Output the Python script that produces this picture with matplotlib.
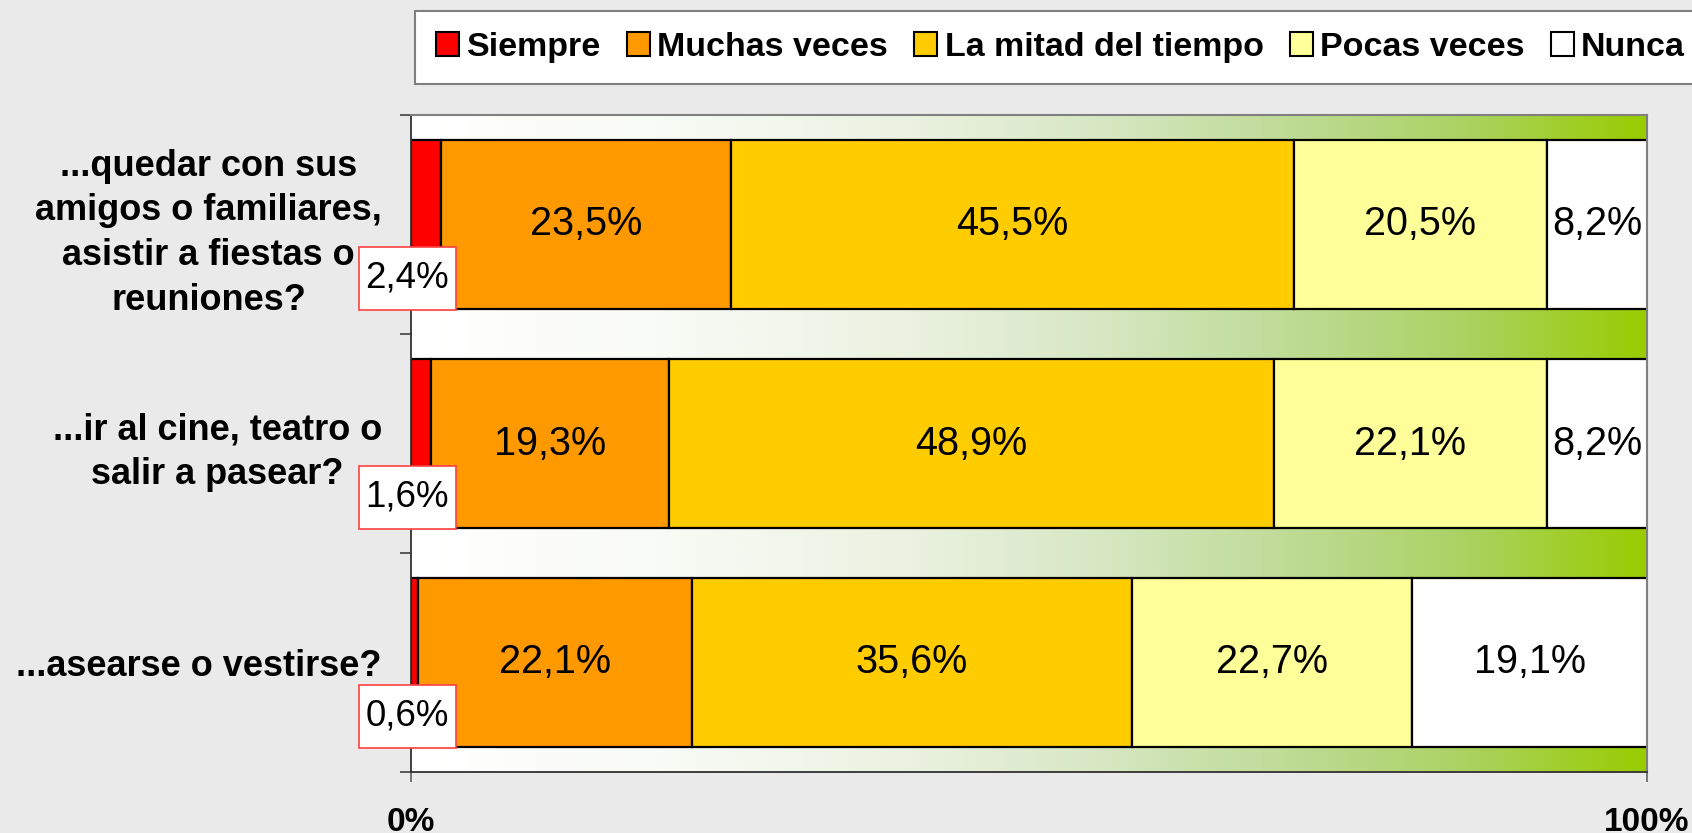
import numpy as np
import matplotlib
matplotlib.use("Agg")
import matplotlib.pyplot as plt
from matplotlib.colors import LinearSegmentedColormap
from matplotlib.patches import Patch
from matplotlib.path import Path

plt.rcParams['font.family'] = ['Liberation Sans', 'DejaVu Sans']

categories = ["...quedar con sus\namigos o familiares,\nasistir a fiestas o\nreuniones?",
              "...ir al cine, teatro o\nsalir a pasear?",
              "...asearse o vestirse?"]
series_names = ["Siempre", "Muchas veces", "La mitad del tiempo", "Pocas veces", "Nunca"]
siempre = [2.4, 1.6, 0.6]
muchas = [23.5, 19.3, 22.1]
mitad = [45.5, 48.9, 35.6]
pocas = [20.5, 22.1, 22.7]
nunca = [8.2, 8.2, 19.1]
colors = ["#FF0000", "#FF9900", "#FFCC00", "#FFFF99", "#FFFFFF"]
xtick_vals = [0, 100]
xtick_labels = ["0%", "100%"]

def fmt(v):
    return f"{v:.1f}".replace(".", ",") + "%"

def label_box(x0, y0, width, height, mutation_size):
    px = 0.18 * mutation_size
    py = 0.38 * mutation_size
    verts = [(x0 - px, y0 - py), (x0 + width + px, y0 - py),
             (x0 + width + px, y0 + height + py), (x0 - px, y0 + height + py),
             (x0 - px, y0 - py)]
    return Path(verts, closed=True)

fig = plt.figure(figsize=(16.92, 8.33), dpi=100, facecolor="#EAEAEA")
ax = fig.add_axes([411/1692, 1-772/833, (1647-411)/1692, (772-115)/833])
ax.set_facecolor("white")

# gradient background
cmap = LinearSegmentedColormap.from_list("grad", [
    (0.0, "#ffffff"), (0.2, "#f9fbf6"), (0.4, "#ebf2e1"), (0.55, "#d8e8c5"),
    (0.7, "#c0dc98"), (0.85, "#acd264"), (1.0, "#99cc00")])
grad = np.linspace(0, 1, 512).reshape(1, -1)
n = len(categories)
ax.imshow(grad, cmap=cmap, extent=(0, 100, n - 0.5, -0.5), aspect="auto", zorder=0)

series = [siempre, muchas, mitad, pocas, nunca]
y = np.arange(n)
left = np.zeros(n)
bar_h = 0.77
for s_i, (vals, col) in enumerate(zip(series, colors)):
    vals = np.array(vals)
    ax.barh(y, vals, left=left, height=bar_h, color=col, edgecolor="black",
            linewidth=1.6, zorder=2)
    for j in range(n):
        if s_i == 0:
            ax.text(-0.3, y[j] + 0.245, fmt(vals[j]), ha="center", va="center",
                    fontsize=26.5, zorder=5, clip_on=False,
                    bbox=dict(boxstyle=label_box, facecolor="white",
                              edgecolor="#FF4040", linewidth=1.2))
        else:
            ax.text(left[j] + vals[j] / 2, y[j], fmt(vals[j]), ha="center",
                    va="center", fontsize=28.5, zorder=4)
    left = left + vals

ax.set_xlim(0, 100)
ax.set_ylim(n - 0.5, -0.5)

ax.set_yticks(y)
ax.set_yticklabels(categories, fontsize=26, fontweight="bold", multialignment="center",
                   linespacing=1.37)
ax.set_yticks(np.arange(n + 1) - 0.5, minor=True)
ax.tick_params(axis="y", which="major", length=0, pad=21)
ax.tick_params(axis="y", which="minor", length=8, width=1.2, color="#404040", direction="out")

ax.set_xticks(xtick_vals)
ax.set_xticklabels(xtick_labels, fontsize=24, fontweight="bold")
ax.tick_params(axis="x", length=7, width=1.2, color="#606060", direction="out", pad=18)

for side in ["top", "right"]:
    ax.spines[side].set_color("#808080")
    ax.spines[side].set_linewidth(1.5)
ax.spines["left"].set_color("#303030")
ax.spines["left"].set_linewidth(1.3)
ax.spines["bottom"].set_color("#303030")
ax.spines["bottom"].set_linewidth(1.3)

handles = [Patch(facecolor=c, edgecolor="black", linewidth=1.5) for c in colors]
leg = fig.legend(handles, series_names, loc="upper left",
                 bbox_to_anchor=(415/1692, 1 - 11/833), ncol=5,
                 prop=dict(family=["Liberation Sans"], weight="bold", size=24.5),
                 frameon=True, fancybox=False, framealpha=1, edgecolor="#7f7f7f",
                 handlelength=0.68, handleheight=0.7, handletextpad=0.22,
                 columnspacing=0.76, borderpad=0.62, borderaxespad=0)
leg.get_frame().set_linewidth(1.5)

fig.savefig("out.png", dpi=100, facecolor=fig.get_facecolor())
